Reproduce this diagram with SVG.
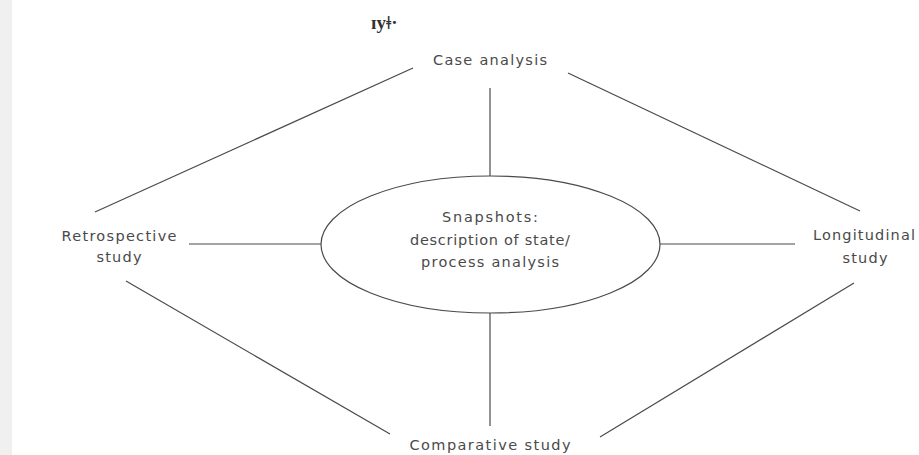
<svg xmlns="http://www.w3.org/2000/svg" width="919" height="455" viewBox="0 0 919 455">
  <style>
    .lbl { font-family: "DejaVu Sans", "Liberation Sans", sans-serif; font-size: 14.5px; fill: #4a4a4a; text-anchor: middle; }
    .edge { stroke: #4a4a4a; stroke-width: 1.2; fill: none; }
  </style>
  <rect x="0" y="0" width="919" height="455" fill="#ffffff"/>
  <rect x="0" y="0" width="12" height="455" fill="#f0f0f0"/>
  <text x="371" y="29" font-family="Liberation Serif, serif" font-size="19" font-weight="bold" fill="#333">ɪyǂ·</text>

  <g id="connectors">
    <line class="edge" x1="413" y1="68" x2="95" y2="212"/>
    <line class="edge" x1="568" y1="73" x2="860" y2="211"/>
    <line class="edge" x1="126" y1="281" x2="390" y2="434"/>
    <line class="edge" x1="854" y1="283" x2="600" y2="437"/>
    <line class="edge" x1="490" y1="88" x2="490" y2="176"/>
    <line class="edge" x1="490" y1="313" x2="490" y2="426"/>
    <line class="edge" x1="189" y1="244" x2="321" y2="244"/>
    <line class="edge" x1="660" y1="244" x2="795" y2="244"/>
  </g>

  <g id="snapshots">
    <ellipse class="edge" cx="490.5" cy="244.5" rx="169.5" ry="68.5"/>
    <text class="lbl" x="490" y="222" textLength="96" lengthAdjust="spacing">Snapshots:</text>
    <text class="lbl" x="490" y="245" textLength="160" lengthAdjust="spacing">description of state/</text>
    <text class="lbl" x="490" y="267" textLength="138" lengthAdjust="spacing">process analysis</text>
  </g>

  <g id="case-analysis">
    <text class="lbl" x="490" y="65" textLength="114" lengthAdjust="spacing">Case analysis</text>
  </g>

  <g id="retrospective-study">
    <text class="lbl" x="119" y="241" textLength="115" lengthAdjust="spacing">Retrospective</text>
    <text class="lbl" x="119" y="262" textLength="45" lengthAdjust="spacing">study</text>
  </g>

  <g id="longitudinal-study">
    <text class="lbl" x="864" y="240" textLength="102" lengthAdjust="spacing">Longitudinal</text>
    <text class="lbl" x="865" y="263" textLength="45" lengthAdjust="spacing">study</text>
  </g>

  <g id="comparative-study">
    <text class="lbl" x="490" y="450" textLength="161" lengthAdjust="spacing">Comparative study</text>
  </g>
</svg>
